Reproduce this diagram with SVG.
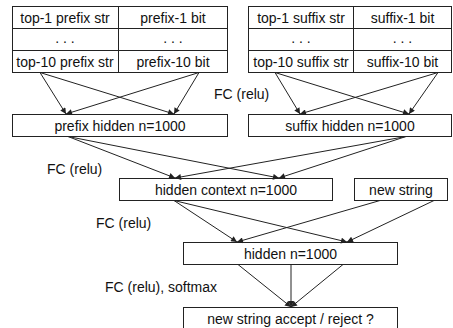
<svg xmlns="http://www.w3.org/2000/svg" width="453" height="328" viewBox="0 0 453 328">
<style>
rect{fill:#fff;stroke:#222;stroke-width:1}
.ln{stroke:#222;stroke-width:1;fill:none}
text{font-family:"Liberation Sans",Arial,sans-serif;font-size:14px;fill:#111}
.c{text-anchor:middle}
</style>
<defs>
<marker id="ah" viewBox="0 0 10 10" refX="10" refY="5" markerWidth="7" markerHeight="6" markerUnits="userSpaceOnUse" orient="auto">
<path d="M0,0 L10,5 L0,10 z" fill="#222"/>
</marker>
</defs>
<rect x="0" y="0" width="453" height="328" style="stroke:none"/>
<g id="prefix-table">
<rect x="12.5" y="6.5" width="215" height="66"/>
<line class="ln" x1="12.5" y1="28.5" x2="227.5" y2="28.5"/>
<line class="ln" x1="12.5" y1="50.5" x2="227.5" y2="50.5"/>
<line class="ln" x1="118.5" y1="6.5" x2="118.5" y2="72.5"/>
<text class="c" x="65" y="22.5">top-1 prefix str</text>
<text class="c" x="173" y="22.5">prefix-1 bit</text>
<text class="c" x="65" y="43">. . .</text>
<text class="c" x="173" y="43">. . .</text>
<text class="c" x="65" y="66.5">top-10 prefix str</text>
<text class="c" x="173" y="66.5">prefix-10 bit</text>
</g>
<g id="suffix-table">
<rect x="248.5" y="6.5" width="203" height="66"/>
<line class="ln" x1="248.5" y1="28.5" x2="451.5" y2="28.5"/>
<line class="ln" x1="248.5" y1="50.5" x2="451.5" y2="50.5"/>
<line class="ln" x1="353.5" y1="6.5" x2="353.5" y2="72.5"/>
<text class="c" x="301" y="22.5">top-1 suffix str</text>
<text class="c" x="402.5" y="22.5">suffix-1 bit</text>
<text class="c" x="301" y="43">. . .</text>
<text class="c" x="402.5" y="43">. . .</text>
<text class="c" x="301" y="66.5">top-10 suffix str</text>
<text class="c" x="402.5" y="66.5">suffix-10 bit</text>
</g>
<g id="prefix-hidden">
<rect x="12.5" y="114.5" width="215" height="22"/>
<text class="c" x="120" y="130.5">prefix hidden n=1000</text>
</g>
<g id="suffix-hidden">
<rect x="248.5" y="114.5" width="203" height="22"/>
<text class="c" x="350" y="130.5">suffix hidden n=1000</text>
</g>
<g id="hidden-context">
<rect x="119.5" y="178.5" width="213" height="22"/>
<text class="c" x="226" y="194.5">hidden context n=1000</text>
</g>
<g id="new-string">
<rect x="354.5" y="178.5" width="93" height="22"/>
<text class="c" x="401" y="194.5">new string</text>
</g>
<g id="hidden">
<rect x="183.5" y="242.5" width="214" height="22"/>
<text class="c" x="290.5" y="258.5">hidden n=1000</text>
</g>
<g id="output">
<rect x="183.5" y="307.5" width="214" height="22"/>
<text class="c" x="290.5" y="323.5">new string accept / reject ?</text>
</g>
<g id="labels">
<text x="214" y="98.5">FC (relu)</text>
<text x="47" y="174">FC (relu)</text>
<text x="96" y="228">FC (relu)</text>
<text x="105" y="291.5">FC (relu), softmax</text>
</g>
<g id="connectors" class="ln" marker-end="url(#ah)">
<line x1="40" y1="72.5" x2="66" y2="114"/>
<line x1="40" y1="72.5" x2="174" y2="114"/>
<line x1="199" y1="72.5" x2="66" y2="114"/>
<line x1="199" y1="72.5" x2="174" y2="114"/>
<line x1="275" y1="72.5" x2="300" y2="114"/>
<line x1="275" y1="72.5" x2="409" y2="114"/>
<line x1="438" y1="72.5" x2="300" y2="114"/>
<line x1="438" y1="72.5" x2="409" y2="114"/>
<line x1="68" y1="136.5" x2="175" y2="178"/>
<line x1="68" y1="136.5" x2="279" y2="178"/>
<line x1="406" y1="136.5" x2="175" y2="178"/>
<line x1="406" y1="136.5" x2="279" y2="178"/>
<line x1="174" y1="200.5" x2="237" y2="242"/>
<line x1="174" y1="200.5" x2="347" y2="242"/>
<line x1="380" y1="200.5" x2="237" y2="242"/>
<line x1="434" y1="200.5" x2="347" y2="242"/>
<line x1="238" y1="264.5" x2="291" y2="307"/>
<line x1="291" y1="264.5" x2="291" y2="307"/>
<line x1="343" y1="264.5" x2="291" y2="307"/>
</g>
</svg>
